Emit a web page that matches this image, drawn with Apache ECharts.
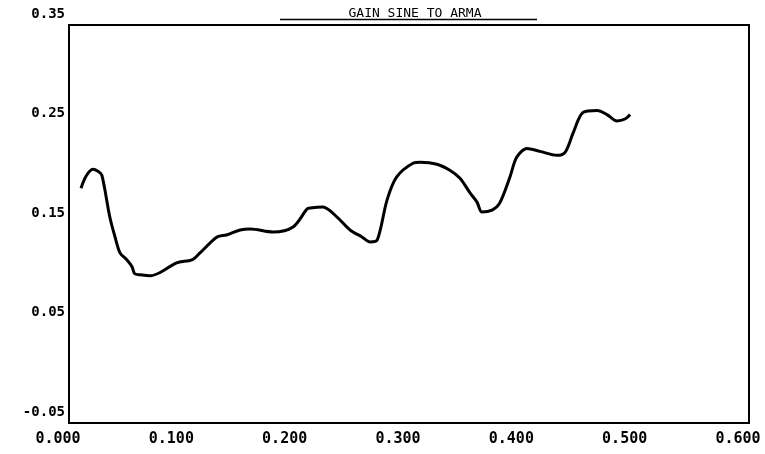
<!DOCTYPE html>
<html>
<head>
<meta charset="utf-8">
<script src="https://cdn.jsdelivr.net/npm/echarts@6/dist/echarts.min.js"></script>
<style>html,body{margin:0;padding:0;background:#fff}#c{width:765px;height:454px}</style>
</head>
<body>
<div id="c"></div>
<script>
var titleText = 'GAIN SINE TO ARMA';
var xTickLabels = ['0.000', '0.100', '0.200', '0.300', '0.400', '0.500', '0.600'];
var yTickLabels = ['-0.05', '0.05', '0.15', '0.25', '0.35'];
var freq = [0.0106, 0.015, 0.021, 0.0256, 0.029, 0.036, 0.0406, 0.045, 0.051, 0.0556, 0.058, 0.063, 0.0715, 0.080, 0.095, 0.1085, 0.1156, 0.1306, 0.139, 0.151, 0.160, 0.180, 0.1977, 0.210, 0.2127, 0.224, 0.2365, 0.248, 0.2585, 0.2656, 0.272, 0.2806, 0.289, 0.3035, 0.310, 0.3247, 0.336, 0.345, 0.354, 0.360, 0.3644, 0.3733, 0.380, 0.389, 0.395, 0.404, 0.4156, 0.4306, 0.4377, 0.4447, 0.4535, 0.466, 0.4747, 0.4835, 0.4906, 0.495];
var gain = [0.186, 0.198, 0.205, 0.203, 0.199, 0.157, 0.137, 0.121, 0.114, 0.107, 0.100, 0.099, 0.098, 0.101, 0.111, 0.114, 0.121, 0.137, 0.139, 0.144, 0.145, 0.142, 0.147, 0.165, 0.166, 0.167, 0.157, 0.144, 0.137, 0.132, 0.134, 0.174, 0.197, 0.211, 0.212, 0.210, 0.204, 0.196, 0.181, 0.172, 0.162, 0.164, 0.171, 0.197, 0.217, 0.226, 0.223, 0.219, 0.222, 0.241, 0.262, 0.264, 0.260, 0.2535, 0.2555, 0.260];

var pts = freq.map(function (f, i) { return [f, gain[i]]; });
var font = '"DejaVu Sans Mono", monospace';
var chart = echarts.init(document.getElementById('c'), null, {renderer: 'canvas'});
chart.setOption({
  animation: false,
  backgroundColor: '#fff',
  title: {
    text: titleText, left: 410, top: 2, textAlign: 'center',
    textStyle: {fontFamily: font, fontSize: 13, fontWeight: 'normal', color: '#000'}
  },
  graphic: [{
    type: 'line', shape: {x1: 280, y1: 19.5, x2: 537, y2: 19.5},
    style: {stroke: '#000', lineWidth: 1.5}
  }],
  grid: {left: 69, right: 16, top: 25, bottom: 31, show: true, borderColor: '#000', borderWidth: 2, backgroundColor: 'transparent'},
  xAxis: {
    type: 'value', min: 0, max: 0.6, interval: 0.1,
    axisLine: {show: true, onZero: false, lineStyle: {color: '#000', width: 2}},
    axisTick: {show: false}, splitLine: {show: false},
    axisLabel: {
      color: '#000', fontFamily: font, fontWeight: 'bold', fontSize: 15, margin: 9,
      padding: [0, 22, 0, 0],
      formatter: function (v) { return xTickLabels[Math.round(v * 10)]; }
    }
  },
  yAxis: {
    type: 'value', min: -0.05, max: 0.35, interval: 0.1,
    axisLine: {show: true, onZero: false, lineStyle: {color: '#000', width: 2}},
    axisTick: {show: false}, splitLine: {show: false},
    axisLabel: {
      color: '#000', fontFamily: font, fontWeight: 'bold', fontSize: 14, margin: 4,
      verticalAlign: 'bottom', padding: [0, 0, 4, 0],
      formatter: function (v) { return yTickLabels[Math.round((v + 0.05) * 10)]; }
    }
  },
  series: [{
    type: 'line', data: pts, showSymbol: false, smooth: 0.3,
    lineStyle: {color: '#000', width: 3}
  }]
});
</script>
</body>
</html>
